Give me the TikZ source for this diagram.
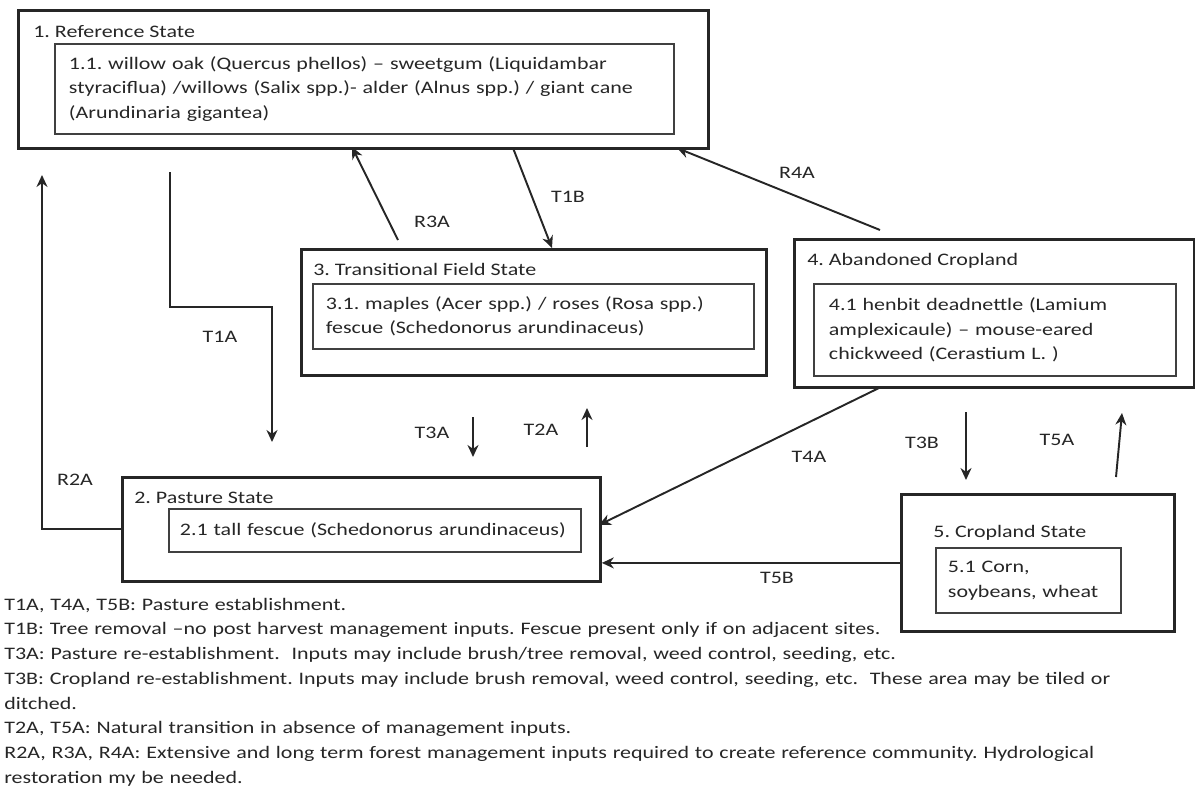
\documentclass[tikz,border=0pt]{standalone}
\usepackage{fontspec}
\setmainfont{Carlito}[FakeStretch=1.25]
\usepackage{xcolor}
\usetikzlibrary{arrows.meta,positioning}
\definecolor{ink}{HTML}{262626}
\definecolor{inkgray}{HTML}{404040}
\frenchspacing
\tikzset{
  statebox/.style={draw=ink,line width=1.6pt,anchor=north west,inner sep=0pt},
  phasebox/.style={draw=inkgray,line width=1.1pt,anchor=north west,align=left,
                   text=ink,font=\fontsize{10}{14}\selectfont},
  boxtitle/.style={anchor=base west,inner sep=0pt,text=ink,
                   font=\fontsize{10}{14}\selectfont},
  trlabel/.style={inner sep=0pt,text=ink,font=\fontsize{10}{14}\selectfont},
  keytext/.style={anchor=north west,inner sep=0pt,align=left,text width=23.6cm,
                  text=ink,font=\fontsize{10}{14.1}\selectfont},
  trarr/.style={-{Stealth[length=2.4mm,width=2.2mm]},line width=1.1pt,draw=ink}
}
\begin{document}
\begin{tikzpicture}[x=1cm,y=1cm]
    \path[use as bounding box] (0,0) rectangle (23.9,-16.02);
    % states
    \node[statebox,minimum width=13.8cm,minimum height=2.76cm] (ref) at (0.34,-0.18) {};
    \node[boxtitle] (reftitle) at (0.66,-0.74) {1. Reference State};
    \node[phasebox,text width=11.82cm,inner xsep=0.28cm,minimum height=1.8cm] (refphase)
      at (1.08,-0.86)
      {1.1. willow oak (Quercus phellos) – sweetgum (Liquidambar\\
       styraciflua) /willows (Salix spp.)- alder (Alnus spp.) / giant cane\\
       (Arundinaria gigantea)};
    \node[statebox,minimum width=9.3cm,minimum height=2.52cm] (trans) at (6.0,-4.96) {};
    \node[boxtitle] (transtitle) at (6.26,-5.5) {3. Transitional Field State};
    \node[phasebox,text width=8.3cm,inner xsep=0.26cm,minimum height=1.3cm] (transphase)
      at (6.24,-5.66)
      {3.1. maples (Acer spp.) / roses (Rosa spp.)\\
       fescue (Schedonorus arundinaceus)};
    \node[statebox,minimum width=8.0cm,minimum height=2.96cm] (aband) at (15.86,-4.76) {};
    \node[boxtitle] (abandtitle) at (16.14,-5.3) {4. Abandoned Cropland};
    \node[phasebox,text width=6.64cm,inner xsep=0.3cm,minimum height=1.84cm] (abandphase)
      at (16.26,-5.66)
      {4.1 henbit deadnettle (Lamium\\
       amplexicaule) – mouse-eared\\
       chickweed (Cerastium L. )};
    \node[statebox,minimum width=9.56cm,minimum height=2.08cm] (past) at (2.42,-9.52) {};
    \node[boxtitle] (pasttitle) at (2.68,-10.06) {2. Pasture State};
    \node[phasebox,text width=7.8cm,inner xsep=0.22cm,minimum height=0.86cm] (pastphase)
      at (3.36,-10.16)
      {\mbox{2.1 tall fescue (Schedonorus arundinaceus)}};
    \node[statebox,minimum width=5.46cm,minimum height=2.74cm] (crop) at (18.0,-9.86) {};
    \node[boxtitle] (croptitle) at (18.66,-10.74) {5. Cropland State};
    \node[phasebox,text width=3.22cm,inner xsep=0.24cm,minimum height=1.3cm] (cropphase)
      at (18.7,-10.94)
      {5.1 Corn,\\
       soybeans, wheat};
    % transition and restoration pathways
    \coordinate (t1atail) at (3.4,-3.44);
    \coordinate (t1abend) at (5.44,-6.14);
    \coordinate (t1atip) at (5.44,-8.84);
    \coordinate (r2atip) at (0.84,-3.5);
    \coordinate (r3atail) at (7.96,-4.8);
    \coordinate (r3atip) at (7.04,-2.94);
    \coordinate (t1btail) at (10.26,-2.96);
    \coordinate (t1btip) at (11.04,-4.96);
    \coordinate (r4atail) at (17.6,-4.6);
    \coordinate (r4atip) at (13.54,-2.96);
    \coordinate (t3atail) at (9.46,-8.34);
    \coordinate (t3atip) at (9.46,-9.14);
    \coordinate (t2atail) at (11.74,-8.94);
    \coordinate (t2atip) at (11.74,-8.16);
    \coordinate (t4atail) at (17.62,-7.74);
    \coordinate (t4atip) at (11.98,-10.5);
    \coordinate (t3btail) at (19.32,-8.24);
    \coordinate (t3btip) at (19.32,-9.6);
    \coordinate (t5atail) at (22.32,-9.54);
    \coordinate (t5atip) at (22.44,-8.26);
    \draw[trarr] (t1atail) |- (t1abend) -- (t1atip);
    \draw[trarr] (past.west) -| (r2atip);
    \draw[trarr] (r3atail) -- (r3atip);
    \draw[trarr] (t1btail) -- (t1btip);
    \draw[trarr] (r4atail) -- (r4atip);
    \draw[trarr] (t3atail) -- (t3atip);
    \draw[trarr] (t2atail) -- (t2atip);
    \draw[trarr] (t4atail) -- (t4atip);
    \draw[trarr] (t3btail) -- (t3btip);
    \draw[trarr] (t5atail) -- (t5atip);
    \draw[trarr] (crop.west) -- (crop.west -| past.east);
    \node[trlabel] (lblt1a) at (4.4,-6.74) {T1A};
    \node[trlabel] (lblr2a) at (1.5,-9.6) {R2A};
    \node[trlabel] (lblr3a) at (8.64,-4.44) {R3A};
    \node[trlabel] (lblt1b) at (11.36,-3.94) {T1B};
    \node[trlabel] (lblr4a) at (15.94,-3.46) {R4A};
    \node[trlabel] (lblt3a) at (8.64,-8.66) {T3A};
    \node[trlabel] (lblt2a) at (10.82,-8.6) {T2A};
    \node[trlabel] (lblt4a) at (16.18,-9.14) {T4A};
    \node[trlabel] (lblt3b) at (18.44,-8.86) {T3B};
    \node[trlabel] (lblt5a) at (21.14,-8.8) {T5A};
    \node[trlabel] (lblt5b) at (15.54,-11.56) {T5B};
    % key to the pathways
    \node[keytext] (key) at (0.08,-11.95)
      {T1A, T4A, T5B: Pasture establishment.\\
       T1B: Tree removal –no post harvest management inputs. Fescue present only if on adjacent sites.\\
       T3A: Pasture re-establishment.~ Inputs may include brush/tree removal, weed control, seeding, etc.\\
       T3B: Cropland re-establishment. Inputs may include brush removal, weed control, seeding, etc.~ These area may be tiled or\\
       ditched.\\
       T2A, T5A: Natural transition in absence of management inputs.\\
       R2A, R3A, R4A: Extensive and long term forest management inputs required to create reference community. Hydrological\\
       restoration my be needed.};
  \end{tikzpicture}
\end{document}
